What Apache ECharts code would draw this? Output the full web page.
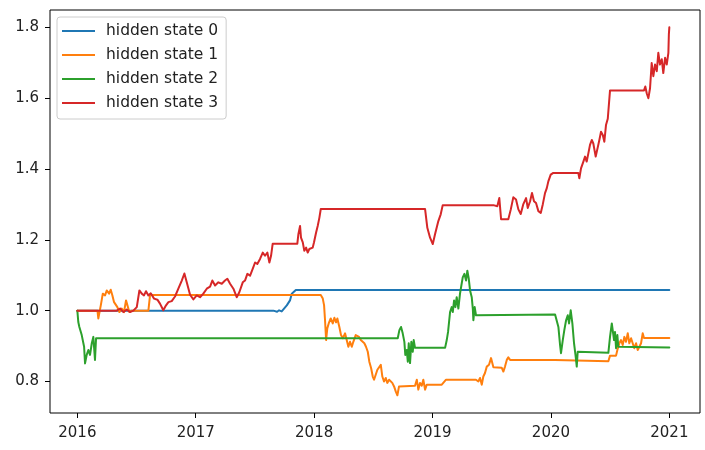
<!DOCTYPE html>
<html>
<head>
<meta charset="utf-8">
<script src="https://cdn.jsdelivr.net/npm/echarts@6/dist/echarts.min.js"></script>
<style>html,body{margin:0;padding:0;background:#fff}#c{width:705px;height:450px}</style>
</head>
<body>
<div id="c"></div>
<script>
// x values are decimal years
var seriesNames = ['hidden state 0', 'hidden state 1', 'hidden state 2', 'hidden state 3'];
var xTickValues = [2016, 2017, 2018, 2019, 2020, 2021];
var yTickValues = [0.8, 1.0, 1.2, 1.4, 1.6, 1.8];

var state0Years = [2016.000, 2017.655, 2017.670, 2017.687, 2017.704, 2017.726, 2017.769, 2017.796, 2017.811, 2017.824, 2017.845, 2021.000];
var state0Values = [1.000, 1.000, 1.002, 0.997, 1.001, 0.998, 1.015, 1.029, 1.048, 1.050, 1.058, 1.058];

var state1Years = [2016.000, 2016.170, 2016.177, 2016.198, 2016.215, 2016.234, 2016.248, 2016.268, 2016.282, 2016.296, 2016.310, 2016.324, 2016.338, 2016.355, 2016.375, 2016.394, 2016.411, 2016.426, 2016.439, 2016.459, 2016.600, 2016.614,
  2018.056, 2018.073, 2018.084, 2018.092, 2018.101, 2018.111, 2018.123, 2018.140, 2018.157, 2018.171, 2018.185, 2018.196, 2018.213, 2018.227, 2018.242, 2018.261, 2018.275, 2018.289, 2018.303, 2018.318, 2018.331, 2018.351, 2018.365, 2018.379, 2018.394, 2018.407, 2018.424, 2018.438, 2018.453, 2018.466, 2018.481, 2018.495, 2018.506, 2018.520, 2018.534, 2018.548, 2018.563, 2018.576, 2018.590, 2018.605, 2018.618, 2018.633, 2018.647, 2018.660, 2018.675, 2018.689, 2018.703, 2018.717, 2018.726,
  2018.852, 2018.867, 2018.880, 2018.894, 2018.909, 2018.922, 2018.937, 2018.951, 2019.078, 2019.114, 2019.367, 2019.387, 2019.401, 2019.416, 2019.429, 2019.443, 2019.458, 2019.477, 2019.494, 2019.514, 2019.584, 2019.598, 2019.612, 2019.627, 2019.640, 2019.655,
  2020.035, 2020.049, 2020.485, 2020.499, 2020.550, 2020.561, 2020.578, 2020.592, 2020.606, 2020.620, 2020.634, 2020.649, 2020.662, 2020.677, 2020.691, 2020.704, 2020.719, 2020.733, 2020.747, 2020.761, 2020.775, 2020.786, 2021.000];
var state1Values = [1.000, 1.000, 0.978, 1.015, 1.048, 1.043, 1.057, 1.048, 1.059, 1.043, 1.024, 1.029, 1.010, 0.996, 1.006, 0.996, 1.029, 1.024, 0.996, 1.000, 1.000, 1.044,
  1.044, 1.034, 1.015, 0.973, 0.917, 0.950, 0.964, 0.978, 0.964, 0.980, 0.967, 0.978, 0.954, 0.931, 0.922, 0.936, 0.917, 0.898, 0.912, 0.898, 0.912, 0.931, 0.936, 0.926, 0.917, 0.922, 0.908, 0.898, 0.884, 0.856, 0.838, 0.814, 0.805, 0.819, 0.833, 0.828, 0.847, 0.814, 0.800, 0.810, 0.796, 0.805, 0.810, 0.796, 0.786, 0.772, 0.761, 0.786, 0.788,
  0.788, 0.805, 0.777, 0.796, 0.788, 0.805, 0.777, 0.791, 0.791, 0.805, 0.805, 0.800, 0.810, 0.791, 0.814, 0.824, 0.842, 0.847, 0.866, 0.840, 0.839, 0.828, 0.842, 0.861, 0.868, 0.861,
  0.861, 0.857, 0.857, 0.873, 0.873, 0.889, 0.908, 0.917, 0.903, 0.926, 0.912, 0.936, 0.908, 0.922, 0.917, 0.894, 0.908, 0.889, 0.898, 0.908, 0.936, 0.923, 0.923];

var state2Years = [2016.000, 2016.008, 2016.017, 2016.029, 2016.037, 2016.046, 2016.057, 2016.065, 2016.079, 2016.093, 2016.107, 2016.122, 2016.135, 2016.149, 2016.158,
  2018.706, 2018.720, 2018.734, 2018.748, 2018.762, 2018.770, 2018.782, 2018.791, 2018.799, 2018.810, 2018.821, 2018.833, 2018.841, 2018.852,
  2019.106, 2019.120, 2019.131, 2019.148, 2019.162, 2019.171, 2019.182, 2019.193, 2019.204, 2019.218, 2019.232, 2019.241, 2019.255, 2019.269, 2019.283, 2019.294, 2019.306, 2019.317, 2019.331, 2019.340, 2019.345, 2019.356, 2019.367, 2019.373,
  2020.035, 2020.049, 2020.063, 2020.077, 2020.085, 2020.100, 2020.113, 2020.128, 2020.142, 2020.153, 2020.167, 2020.181, 2020.195, 2020.209, 2020.218, 2020.226, 2020.237,
  2020.485, 2020.499, 2020.514, 2020.522, 2020.533, 2020.541, 2020.550, 2020.561, 2020.569, 2021.000];
var state2Values = [1.000, 0.968, 0.954, 0.957, 0.931, 0.926, 0.898, 0.851, 0.875, 0.889, 0.875, 0.908, 0.926, 0.861, 0.922,
  0.922, 0.945, 0.954, 0.936, 0.912, 0.875, 0.889, 0.856, 0.908, 0.852, 0.912, 0.884, 0.917, 0.895,
  0.895, 0.917, 0.940, 0.996, 1.010, 0.996, 1.029, 1.010, 1.038, 1.006, 1.048, 1.066, 1.094, 1.104, 1.085, 1.113, 1.090, 1.057, 1.038, 1.006, 0.973, 1.010, 0.987, 0.989,
  0.989, 0.992, 0.954, 0.903, 0.880, 0.917, 0.945, 0.973, 0.987, 0.964, 1.001, 0.964, 0.908, 0.870, 0.842, 0.884, 0.881,
  0.881, 0.926, 0.964, 0.965, 0.917, 0.940, 0.894, 0.931, 0.898, 0.896];

var state3Years = [2016.000, 2016.333, 2016.361, 2016.389, 2016.417, 2016.445, 2016.473, 2016.502, 2016.524, 2016.544, 2016.563, 2016.580, 2016.600, 2016.620, 2016.648, 2016.676, 2016.698, 2016.726, 2016.749, 2016.769, 2016.797, 2016.825, 2016.853, 2016.882, 2016.904, 2016.924, 2016.952, 2016.980,
  2017.008, 2017.036, 2017.064, 2017.093, 2017.121, 2017.140, 2017.163, 2017.191, 2017.220, 2017.247, 2017.267, 2017.290, 2017.318, 2017.346, 2017.368, 2017.397, 2017.416, 2017.436, 2017.459, 2017.481, 2017.501, 2017.520, 2017.543, 2017.566, 2017.585, 2017.605, 2017.622, 2017.636, 2017.650,
  2017.858, 2017.867, 2017.881, 2017.889, 2017.904, 2017.917, 2017.932, 2017.946, 2017.959, 2017.974, 2017.988, 2017.999, 2018.016, 2018.030, 2018.044, 2018.056,
  2018.937, 2018.956, 2018.979, 2019.002, 2019.021, 2019.049, 2019.069, 2019.086,
  2019.514, 2019.528, 2019.547, 2019.564, 2019.579, 2019.612, 2019.640, 2019.661, 2019.682, 2019.705, 2019.725, 2019.745, 2019.767, 2019.790, 2019.804, 2019.824, 2019.840, 2019.857, 2019.874, 2019.894, 2019.914, 2019.931, 2019.950, 2019.965, 2019.978, 2019.998, 2020.020,
  2020.231, 2020.240, 2020.254, 2020.274, 2020.288, 2020.302, 2020.316, 2020.330, 2020.345, 2020.358, 2020.378, 2020.392, 2020.409, 2020.423, 2020.438, 2020.451, 2020.465, 2020.480, 2020.493, 2020.499,
  2020.786, 2020.797, 2020.809, 2020.823, 2020.837, 2020.851, 2020.865, 2020.879, 2020.894, 2020.907, 2020.921, 2020.936, 2020.949, 2020.964, 2020.978, 2020.992, 2020.996, 2021.000];
var state3Values = [1.000, 1.000, 1.006, 0.996, 1.003, 0.996, 1.000, 1.010, 1.057, 1.048, 1.043, 1.055, 1.043, 1.049, 1.034, 1.031, 1.020, 1.001, 1.015, 1.024, 1.027, 1.040, 1.062, 1.085, 1.105, 1.080, 1.045, 1.032,
  1.043, 1.038, 1.048, 1.062, 1.068, 1.085, 1.071, 1.080, 1.076, 1.085, 1.090, 1.076, 1.062, 1.038, 1.052, 1.080, 1.085, 1.104, 1.099, 1.118, 1.136, 1.132, 1.146, 1.164, 1.155, 1.164, 1.136, 1.155, 1.189,
  1.189, 1.216, 1.239, 1.206, 1.193, 1.169, 1.178, 1.164, 1.174, 1.169, 1.178, 1.193, 1.220, 1.239, 1.262, 1.287,
  1.287, 1.234, 1.206, 1.188, 1.216, 1.253, 1.272, 1.298,
  1.298, 1.300, 1.295, 1.318, 1.258, 1.258, 1.258, 1.286, 1.320, 1.314, 1.286, 1.273, 1.301, 1.318, 1.290, 1.309, 1.332, 1.309, 1.304, 1.281, 1.276, 1.300, 1.332, 1.346, 1.365, 1.384, 1.389,
  1.389, 1.374, 1.402, 1.421, 1.435, 1.421, 1.444, 1.468, 1.482, 1.472, 1.435, 1.440, 1.482, 1.505, 1.496, 1.477, 1.524, 1.542, 1.544, 1.622,
  1.622, 1.633, 1.614, 1.600, 1.628, 1.699, 1.662, 1.695, 1.676, 1.728, 1.695, 1.710, 1.671, 1.714, 1.695, 1.728, 1.780, 1.800];

var colors = ['#1f77b4', '#ff7f0e', '#2ca02c', '#d62728'];
var allYears = [state0Years, state1Years, state2Years, state3Years];
var allValues = [state0Values, state1Values, state2Values, state3Values];

function pairs(xs, ys) {
  var out = [];
  for (var i = 0; i < xs.length; i++) out.push([xs[i], ys[i]]);
  return out;
}

var series = seriesNames.map(function (name, i) {
  return {
    name: name,
    type: 'line',
    data: pairs(allYears[i], allValues[i]),
    showSymbol: false,
    symbol: 'none',
    lineStyle: { color: colors[i], width: 2, join: 'round', cap: 'round' },
    itemStyle: { color: colors[i] },
    z: 2 + i
  };
});

var textColor = '#222';
var font = 'DejaVu Sans';
var chart = echarts.init(document.getElementById('c'), null, { renderer: 'canvas' });
chart.setOption({
  animation: false,
  backgroundColor: '#fff',
  color: colors,
  grid: { left: 50, top: 10, width: 650, height: 403, show: true, borderColor: '#000', borderWidth: 1, backgroundColor: 'transparent' },
  legend: {
    orient: 'vertical', left: 57, top: 17,
    icon: 'rect', itemWidth: 33, itemHeight: 2, itemGap: 8,
    padding: [6, 8, 8, 5],
    borderColor: '#cccccc', borderWidth: 1, borderRadius: 3,
    backgroundColor: 'rgba(255,255,255,0.8)',
    textStyle: { fontSize: 15.5, color: textColor, fontFamily: font, padding: [0, 0, 0, 6] },
    data: seriesNames
  },
  xAxis: {
    type: 'value', min: 2015.769, max: 2021.259,
    axisLine: { show: false },
    splitLine: { show: false },
    axisTick: { show: true, customValues: xTickValues, length: 5, inside: false, lineStyle: { color: '#000', width: 1 } },
    axisLabel: { customValues: xTickValues, fontSize: 15, color: textColor, fontFamily: font, margin: 13,
      formatter: function (v) { return String(Math.round(v)); } }
  },
  yAxis: {
    type: 'value', min: 0.711, max: 1.849,
    axisLine: { show: false },
    splitLine: { show: false },
    axisTick: { show: true, customValues: yTickValues, length: 5, inside: false, lineStyle: { color: '#000', width: 1 } },
    axisLabel: { customValues: yTickValues, fontSize: 15, color: textColor, fontFamily: font, margin: 11,
      formatter: function (v) { return v.toFixed(1); } }
  },
  series: series
});
</script>
</body>
</html>
